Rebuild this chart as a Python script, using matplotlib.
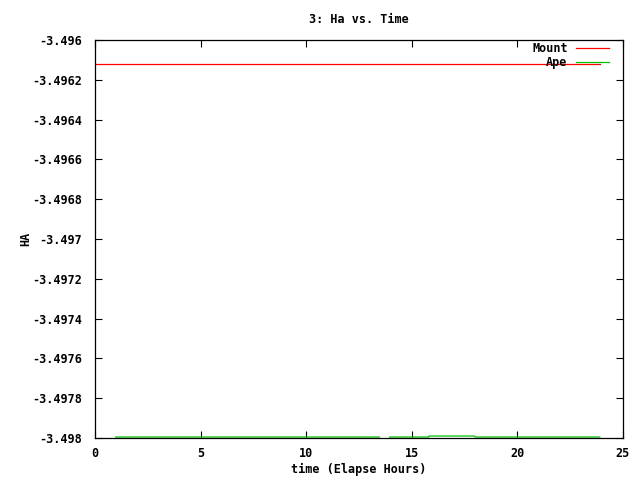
import numpy as np
import matplotlib
matplotlib.use("Agg")
import matplotlib.pyplot as plt
from matplotlib.ticker import MultipleLocator, FuncFormatter

nan = np.nan

# Mount HA (hours)
mount_time = [0.0, 23.9]
mount_ha = [-3.49612, -3.49612]

# Ape HA (gap in the data around 13.5-14 h)
ape_time = [0.98, 13.47, nan, 13.95, 15.8, 15.81, 17.98, 18.0, 23.9]
ape_ha = [-3.497995, -3.497995, nan, -3.497995, -3.497995, -3.49799, -3.49799, -3.497995, -3.497995]

font = {"family": "DejaVu Sans Mono", "weight": "bold", "size": 8.5}


def main():
    fig = plt.figure(figsize=(6.4, 4.8), dpi=100)
    ax = fig.add_axes([0.1484, 0.0875, 0.8250, 0.8292])

    ax.plot(mount_time, mount_ha, color="#ff0000", lw=0.9, label="Mount")
    ax.plot(ape_time, ape_ha, color="#00c000", lw=0.9, label="Ape")

    ax.set_xlim(0, 25)
    ax.set_ylim(-3.498, -3.496)
    ax.xaxis.set_major_locator(MultipleLocator(5))
    ax.yaxis.set_major_locator(MultipleLocator(0.0002))
    ax.yaxis.set_major_formatter(FuncFormatter(lambda v, p: "%g" % round(v, 6)))
    ax.xaxis.set_major_formatter(FuncFormatter(lambda v, p: "%g" % v))
    ax.tick_params(direction="in", length=5, width=0.8, top=True, right=True)
    ax.tick_params(axis="x", pad=6.5)
    ax.tick_params(axis="y", pad=9)
    for lab in ax.get_xticklabels() + ax.get_yticklabels():
        lab.set_fontproperties(matplotlib.font_manager.FontProperties(**font))
    for sp in ax.spines.values():
        sp.set_linewidth(0.9)

    ax.set_title("3: Ha vs. Time", fontdict=font, pad=12)
    ax.set_xlabel("time (Elapse Hours)", fontdict=font, labelpad=2)
    ax.set_ylabel("HA", fontdict=font, labelpad=0)

    leg = ax.legend(loc="upper right", frameon=False, prop=font, markerfirst=False,
                    handlelength=2.8, handletextpad=0.7, labelspacing=0.1,
                    borderpad=0, borderaxespad=0,
                    bbox_to_anchor=(609 / 640, 1 - 42 / 480), bbox_transform=fig.transFigure)
    for t in leg.get_texts():
        t.set_ha("right")

    fig.savefig("out.png", dpi=100)


if __name__ == '__main__':
    main()
